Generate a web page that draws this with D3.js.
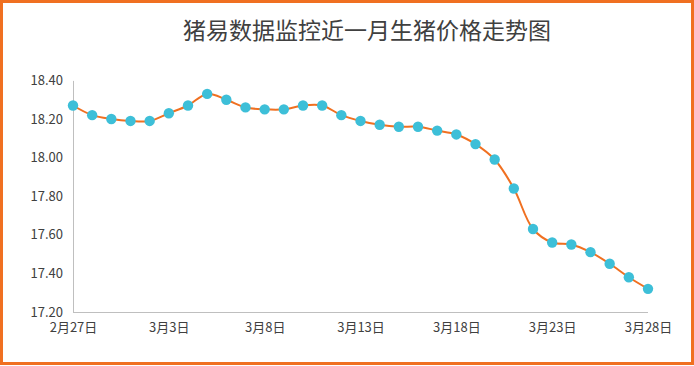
<!DOCTYPE html>
<html><head><meta charset="utf-8">
<script src="https://cdn.jsdelivr.net/npm/d3@7"></script>
<style>body{margin:0;background:#fff}svg{display:block}</style>
</head><body>
<svg id="c" width="694" height="366"></svg>
<script>
const title = "猪易数据监控近一月生猪价格走势图";
const dates = ["2月27日","2月28日","2月29日","3月1日","3月2日","3月3日","3月4日","3月5日","3月6日","3月7日","3月8日","3月9日","3月10日","3月11日","3月12日","3月13日","3月14日","3月15日","3月16日","3月17日","3月18日","3月19日","3月20日","3月21日","3月22日","3月23日","3月24日","3月25日","3月26日","3月27日","3月28日"];
const prices = [18.27,18.22,18.20,18.19,18.19,18.23,18.27,18.33,18.30,18.26,18.25,18.25,18.27,18.27,18.22,18.19,18.17,18.16,18.16,18.14,18.12,18.07,17.99,17.84,17.63,17.56,17.55,17.51,17.45,17.38,17.32];
const xTickLabels = ["2月27日","3月3日","3月8日","3月13日","3月18日","3月23日","3月28日"];
const yTicks = [17.2,17.4,17.6,17.8,18.0,18.2,18.4];

const svg = d3.select("#c");
svg.append("rect").attr("x",1.5).attr("y",1.5).attr("width",691).attr("height",362)
  .attr("fill","#fff").attr("stroke","#f07021").attr("stroke-width",3);

svg.append("text").attr("x",367).attr("y",39).attr("text-anchor","middle")
  .attr("font-family","'Noto Sans CJK SC', sans-serif").attr("font-size",23)
  .attr("fill","#404040").text(title);

const x = d3.scalePoint().domain(dates).range([73,648]);
const y = d3.scaleLinear().domain([17.2,18.4]).range([312,80.4]);

const font = "'Noto Sans CJK SC', 'DejaVu Sans', sans-serif";
// y axis
const ya = svg.append("g").attr("transform","translate(73,0)")
  .call(d3.axisLeft(y).tickValues(yTicks).tickSize(0).tickPadding(10).tickFormat(d3.format(".2f")));
ya.select(".domain").attr("stroke","#bfbfbf");
ya.selectAll("text").attr("font-family",font).attr("font-size",13).attr("fill","#404040");
// x axis
const xa = svg.append("g").attr("transform","translate(0,312)")
  .call(d3.axisBottom(x).tickValues(xTickLabels).tickSize(0).tickPadding(11));
xa.select(".domain").attr("stroke","#bfbfbf").attr("d","M73,0.5H648");
xa.selectAll("text").attr("font-family",font).attr("font-size",13).attr("fill","#404040");

const line = d3.line().x((d,i)=>x(dates[i])).y(d=>y(d)).curve(d3.curveCatmullRom.alpha(0.5));
svg.append("path").datum(prices).attr("d",line).attr("fill","none")
  .attr("stroke","#f07021").attr("stroke-width",2);

svg.selectAll("circle.pt").data(prices).join("circle").attr("class","pt")
  .attr("cx",(d,i)=>x(dates[i])).attr("cy",d=>y(d)).attr("r",5.2)
  .attr("fill","#3dbfd8");
</script>
</body></html>
